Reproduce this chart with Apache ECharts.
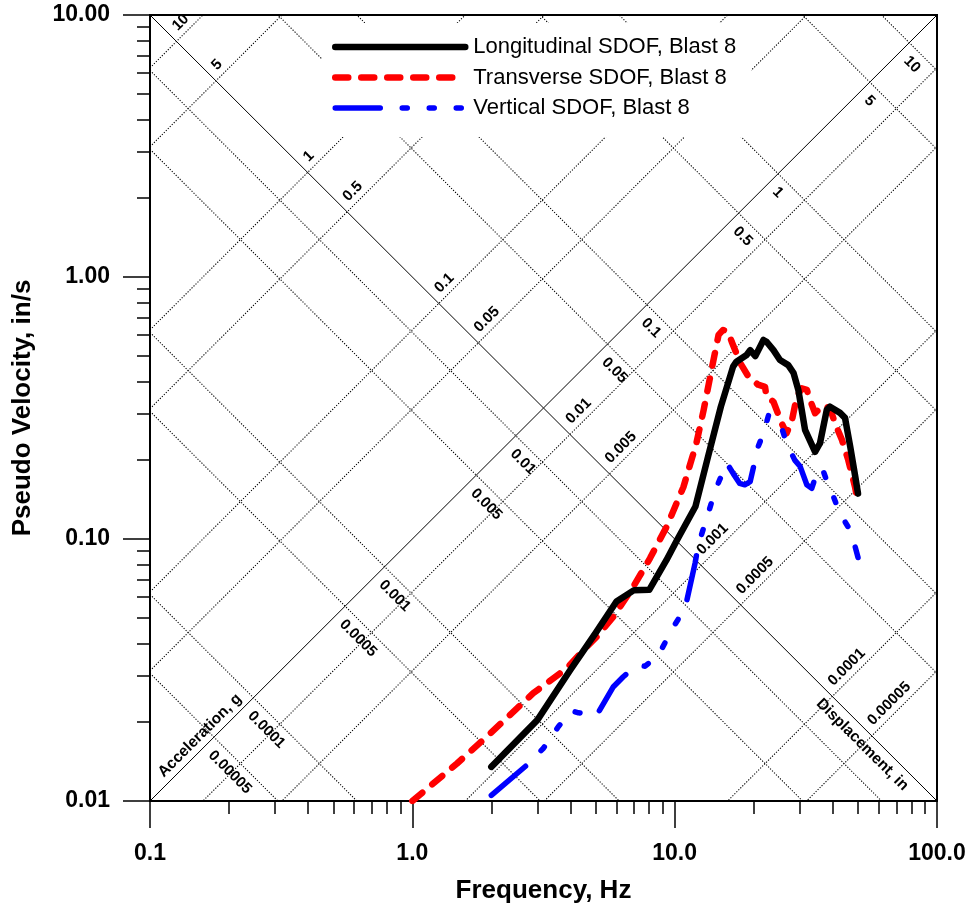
<!DOCTYPE html>
<html>
<head>
<meta charset="utf-8">
<script src="https://cdn.jsdelivr.net/npm/echarts@6/dist/echarts.min.js"></script>
<style>
  html, body { margin: 0; padding: 0; background: #fff; }
  #chart { width: 972px; height: 907px; }
</style>
</head>
<body>
<div id="chart"></div>
<script>
// Tripartite pseudo-velocity response spectra, Blast 8

// Longitudinal SDOF: frequency (Hz) and pseudo velocity (in/s)
const FREQ_LONG = [2, 3, 4, 5, 6, 7, 8, 9.3, 10.2, 12, 13.4, 15, 16.7, 17.2, 18.8, 19.4, 20.3, 21.8, 22.4,
  23.8, 25.2, 27.1, 28.4, 29.6, 30.5, 31.4, 34.3, 35.8, 38, 39.1, 42.7, 44.6, 46.7, 48.8, 50];
const PV_LONG = [0.0135, 0.0204, 0.0316, 0.0438, 0.0577, 0.0638, 0.064, 0.083, 0.099, 0.133, 0.206, 0.32, 0.455,
  0.475, 0.504, 0.526, 0.499, 0.575, 0.566, 0.526, 0.482, 0.461, 0.43, 0.371, 0.311, 0.261, 0.215, 0.232, 0.311,
  0.32, 0.303, 0.29, 0.225, 0.173, 0.149];

// Transverse SDOF
const FREQ_TRANS = [1, 1.48, 1.98, 2.89, 3.88, 4.49, 5.05, 5.84, 6.96, 8.05, 9.32, 10.8, 12.1, 12.9, 13.9, 14.7,
  15.3, 16, 16.5, 17.8, 19.1, 20.8, 22.1, 22.4, 23.8, 25.6, 26.7, 28, 29.2, 30.5, 31.9, 32.8, 34.3, 35.3, 36.9,
  39.1, 40.9, 43.4, 45.9, 48.7, 50];
const PV_TRANS = [0.01, 0.0139, 0.0181, 0.0258, 0.0321, 0.0377, 0.0424, 0.0505, 0.0658, 0.0844, 0.1114, 0.158,
  0.232, 0.311, 0.455, 0.601, 0.628, 0.618, 0.566, 0.469, 0.417, 0.388, 0.381, 0.349, 0.334, 0.276, 0.253, 0.284,
  0.349, 0.376, 0.371, 0.34, 0.302, 0.311, 0.324, 0.315, 0.276, 0.239, 0.2, 0.158, 0.137];

// Vertical SDOF
const FREQ_VERT = [2, 2.73, 3.16, 3.6, 4.05, 4.3, 5.05, 5.84, 6.37, 7.17, 7.71, 8.67, 9.89, 10.96, 11.96, 12.3,
  13.3, 14.3, 15.6, 15.8, 16.7, 17.7, 18.5, 19.4, 20, 20.8, 21.8, 22.8, 23.4, 25.6, 26.7, 28.7, 30.1, 31.9, 33.3,
  35.3, 36.9, 39.1, 40.3, 42.7, 45.9, 48, 50];
const PV_VERT = [0.0105, 0.0137, 0.0159, 0.0192, 0.0221, 0.0217, 0.0213, 0.0273, 0.0298, 0.033, 0.0327, 0.036,
  0.0462, 0.0544, 0.0808, 0.0949, 0.1216, 0.154, 0.189, 0.195, 0.178, 0.163, 0.161, 0.1655, 0.189, 0.225, 0.253,
  0.297, 0.289, 0.265, 0.232, 0.2, 0.189, 0.161, 0.156, 0.186, 0.181, 0.154, 0.145, 0.125, 0.111, 0.099, 0.085];

const SERIES_NAMES = ['Longitudinal SDOF, Blast 8', 'Transverse SDOF, Blast 8', 'Vertical SDOF, Blast 8'];

// Axis ranges and tick labels
const F_RANGE = [0.1, 100];
const V_RANGE = [0.01, 10];
const X_MAJOR = [0.1, 1, 10, 100];
const X_MAJOR_LABELS = ['0.1', '1.0', '10.0', '100.0'];
const X_MINOR = [0.2, 0.3, 0.4, 0.5, 0.6, 0.7, 0.8, 0.9, 2, 3, 4, 5, 6, 7, 8, 9, 20, 30, 40, 50, 60, 70, 80, 90];
const Y_MAJOR = [0.01, 0.1, 1, 10];
const Y_MAJOR_LABELS = ['0.01', '0.10', '1.00', '10.00'];
const Y_MINOR = [0.02, 0.03, 0.04, 0.05, 0.06, 0.07, 0.08, 0.09, 0.2, 0.3, 0.4, 0.5, 0.6, 0.7, 0.8, 0.9,
  2, 3, 4, 5, 6, 7, 8, 9];

// Constant acceleration (g) and constant displacement (in) lines
const ACCEL_LEVELS = ['0.00005', '0.0001', '0.0005', '0.001', '0.005', '0.01', '0.05', '0.1', '0.5', '1', '5', '10'];
const DISP_LEVELS = ['10', '5', '1', '0.5', '0.1', '0.05', '0.01', '0.005', '0.001', '0.0005', '0.0001', '0.00005'];
const FAMILY_TITLES = ['Acceleration, g', 'Displacement, in'];

const G_IN = 386.09;           // gravity, in/s^2
const TWO_PI = 2 * Math.PI;
const FONT = '"Liberation Sans", Arial, Helvetica, sans-serif';
const S = Math.SQRT1_2;

// Rising diagonal (lower-left to upper-right corner): V = RISE * f
const RISE = V_RANGE[0] / F_RANGE[0];
// Falling diagonal (upper-left to lower-right corner): V * f = FALL
const FALL = V_RANGE[1] * F_RANGE[0];

function accelPV(a, f) { return a * G_IN / (TWO_PI * f); }
function dispPV(d, f) { return TWO_PI * f * d; }
function accelCross(a) {
  const k = a * G_IN / TWO_PI;
  const f = Math.sqrt(k / RISE);
  return [f, RISE * f];
}
function dispCross(d) {
  const f = Math.sqrt(FALL / (TWO_PI * d));
  return [f, FALL / f];
}
function pick(values, labels, v) {
  let best = 0;
  values.forEach((t, i) => {
    if (Math.abs(Math.log10(t) - Math.log10(v)) < Math.abs(Math.log10(values[best]) - Math.log10(v))) best = i;
  });
  return labels[best];
}

function guideLine(data, solid) {
  return {
    type: 'line', data, symbol: 'none', silent: true, z: 1,
    lineStyle: solid
      ? { color: '#000', width: 1, type: 'solid' }
      : { color: '#000', width: 1.1, type: [1.2, 1.6] },
    emphasis: { disabled: true }
  };
}

const series = [];
ACCEL_LEVELS.forEach(l => {
  const a = Number(l);
  series.push(guideLine(F_RANGE.map(f => [f, accelPV(a, f)]), false));
});
DISP_LEVELS.forEach(l => {
  const d = Number(l);
  series.push(guideLine(F_RANGE.map(f => [f, dispPV(d, f)]), false));
});
// the two corner-to-corner diagonals carrying the scale labels
series.push(guideLine([[F_RANGE[0], V_RANGE[0]], [F_RANGE[1], V_RANGE[1]]], true));
series.push(guideLine([[F_RANGE[0], V_RANGE[1]], [F_RANGE[1], V_RANGE[0]]], true));

const numFont = { fontSize: 15, fontWeight: 'bold', fontFamily: FONT, fill: '#000' };

// acceleration values along the rising diagonal, text running down-right
series.push({
  type: 'custom', coordinateSystem: 'cartesian2d', silent: true, z: 3,
  data: ACCEL_LEVELS.map(l => accelCross(Number(l))),
  renderItem(params, api) {
    const p = api.coord([api.value(0), api.value(1)]);
    const along = 9, side = 6;
    return {
      type: 'text',
      x: p[0] + along * S - side * S,
      y: p[1] + along * S + side * S,
      rotation: -Math.PI / 4,
      style: Object.assign({ text: ACCEL_LEVELS[params.dataIndex], align: 'left', verticalAlign: 'top' }, numFont)
    };
  }
});

// displacement values along the falling diagonal, text running up-right
series.push({
  type: 'custom', coordinateSystem: 'cartesian2d', silent: true, z: 3,
  data: DISP_LEVELS.map(l => dispCross(Number(l))),
  renderItem(params, api) {
    const p = api.coord([api.value(0), api.value(1)]);
    const along = 8, side = 3;
    return {
      type: 'text',
      x: p[0] + along * S - side * S,
      y: p[1] - along * S - side * S,
      rotation: Math.PI / 4,
      style: Object.assign({ text: DISP_LEVELS[params.dataIndex], align: 'left', verticalAlign: 'bottom' }, numFont)
    };
  }
});

// family titles next to the diagonal corners
series.push({
  type: 'custom', coordinateSystem: 'cartesian2d', silent: true, z: 3,
  data: [[F_RANGE[0], V_RANGE[0]], [F_RANGE[1], V_RANGE[0]]],
  renderItem(params, api) {
    const p = api.coord([api.value(0), api.value(1)]);
    const font = { fontSize: 15.5, fontWeight: 'bold', fontFamily: FONT, fill: '#000' };
    if (params.dataIndex === 0) {
      const along = 26, side = 3;
      return {
        type: 'text', x: p[0] + along * S - side * S, y: p[1] - along * S - side * S,
        rotation: Math.PI / 4,
        style: Object.assign({ text: FAMILY_TITLES[0], align: 'left', verticalAlign: 'bottom' }, font)
      };
    }
    const along = 31, side = 5;
    return {
      type: 'text', x: p[0] - along * S - side * S, y: p[1] - along * S + side * S,
      rotation: -Math.PI / 4,
      style: Object.assign({ text: FAMILY_TITLES[1], align: 'right', verticalAlign: 'top' }, font)
    };
  }
});

const LONG_STYLE = { color: '#000', width: 6.5, type: 'solid', cap: 'round', join: 'round' };
const TRANS_STYLE = { color: '#ff0000', width: 6.5, type: [13, 13], cap: 'round', join: 'round' };
const VERT_STYLE = { color: '#0000ff', width: 5.5, type: [45, 22, 5, 22, 5, 22, 5, 22], cap: 'round', join: 'round' };

series.push({
  name: SERIES_NAMES[0], type: 'line', z: 6, symbol: 'none',
  data: FREQ_LONG.map((f, i) => [f, PV_LONG[i]]),
  itemStyle: { color: '#000' }, lineStyle: LONG_STYLE
});
series.push({
  name: SERIES_NAMES[1], type: 'line', z: 5, symbol: 'none',
  data: FREQ_TRANS.map((f, i) => [f, PV_TRANS[i]]),
  itemStyle: { color: '#ff0000' }, lineStyle: TRANS_STYLE
});
series.push({
  name: SERIES_NAMES[2], type: 'line', z: 5, symbol: 'none',
  data: FREQ_VERT.map((f, i) => [f, PV_VERT[i]]),
  itemStyle: { color: '#0000ff' }, lineStyle: VERT_STYLE
});

const tickLabel = { fontSize: 23, fontWeight: 'bold', color: '#000', fontFamily: FONT };
const titleText = { fontSize: 26, fontWeight: 'bold', color: '#000', fontFamily: FONT };

const option = {
  animation: false,
  backgroundColor: '#fff',
  grid: {
    left: 150, top: 15, width: 787, height: 786,
    show: true, borderColor: '#000', borderWidth: 2, backgroundColor: 'transparent',
    containLabel: false, outerBoundsMode: 'none'
  },
  legend: {
    data: [
      { name: SERIES_NAMES[0], lineStyle: LONG_STYLE },
      { name: SERIES_NAMES[1], lineStyle: TRANS_STYLE },
      { name: SERIES_NAMES[2], lineStyle: VERT_STYLE }
    ],
    orient: 'vertical', left: 322, top: 23,
    padding: [13, 15, 18, 10], itemGap: 8.5,
    itemWidth: 130, itemHeight: 14,
    backgroundColor: '#fff', selectedMode: false,
    itemStyle: { opacity: 0 },
    textStyle: { fontFamily: FONT, fontSize: 22, color: '#000', padding: [0, 0, 0, 3] }
  },
  xAxis: [
    {
      type: 'log', logBase: 10, min: F_RANGE[0], max: F_RANGE[1], position: 'bottom',
      axisLine: { show: true, lineStyle: { color: '#000', width: 2 } },
      axisTick: { show: true, inside: false, length: 27, lineStyle: { color: '#000', width: 1.5 } },
      axisLabel: Object.assign({ margin: 41, formatter: v => pick(X_MAJOR, X_MAJOR_LABELS, v) }, tickLabel),
      splitLine: { show: false },
      name: 'Frequency, Hz', nameLocation: 'middle', nameGap: 77, nameTextStyle: titleText
    },
    {
      type: 'log', logBase: 10, min: F_RANGE[0], max: F_RANGE[1], position: 'bottom',
      axisLine: { show: false },
      axisTick: { show: true, inside: false, length: 13, customValues: X_MINOR, lineStyle: { color: '#000', width: 1.5 } },
      axisLabel: { show: false }, splitLine: { show: false }
    }
  ],
  yAxis: [
    {
      type: 'log', logBase: 10, min: V_RANGE[0], max: V_RANGE[1], position: 'left',
      axisLine: { show: true, lineStyle: { color: '#000', width: 2 } },
      axisTick: { show: true, inside: false, length: 27, lineStyle: { color: '#000', width: 1.5 } },
      axisLabel: Object.assign({ margin: 40, formatter: v => pick(Y_MAJOR, Y_MAJOR_LABELS, v) }, tickLabel),
      splitLine: { show: false },
      name: 'Pseudo Velocity, in/s', nameLocation: 'middle', nameGap: 114, nameTextStyle: titleText
    },
    {
      type: 'log', logBase: 10, min: V_RANGE[0], max: V_RANGE[1], position: 'left',
      axisLine: { show: false },
      axisTick: { show: true, inside: false, length: 13, customValues: Y_MINOR, lineStyle: { color: '#000', width: 1.5 } },
      axisLabel: { show: false }, splitLine: { show: false }
    }
  ],
  series
};

const chart = echarts.init(document.getElementById('chart'));
chart.setOption(option);
</script>
</body>
</html>
